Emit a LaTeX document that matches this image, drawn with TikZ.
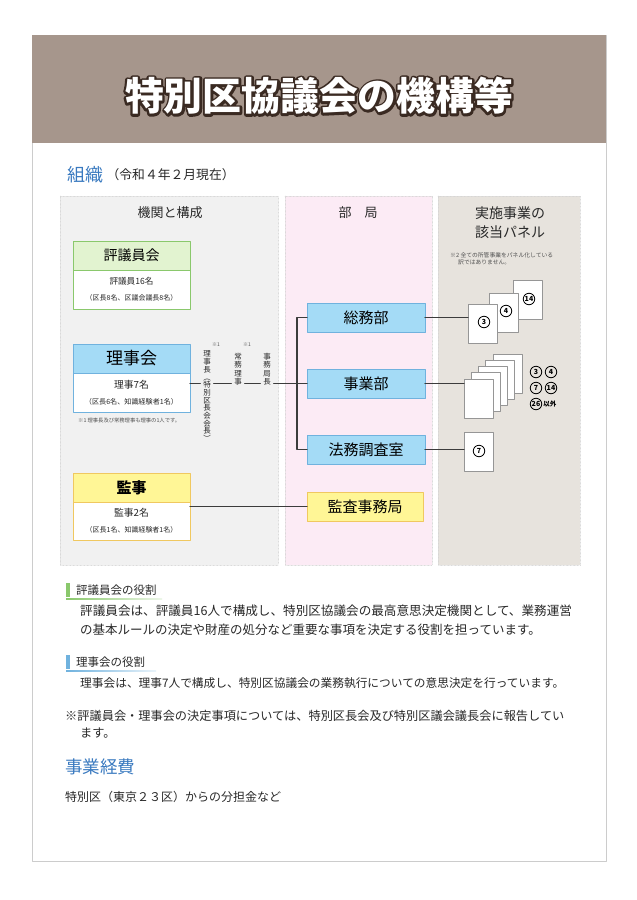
\documentclass[tikz,border=0pt]{standalone}
\usepackage{fontspec}
\setmainfont{Noto Sans CJK JP}
\usetikzlibrary{positioning}

\definecolor{bannerbg}{RGB}{166,150,140}
\definecolor{titleedge}{RGB}{58,42,34}
\definecolor{framegray}{RGB}{204,204,204}
\definecolor{headblue}{RGB}{58,122,192}
\definecolor{colgray}{RGB}{241,241,241}
\definecolor{colpink}{RGB}{252,235,245}
\definecolor{colbeige}{RGB}{231,227,221}
\definecolor{coldot}{RGB}{212,212,212}
\definecolor{greenfill}{RGB}{226,243,208}
\definecolor{greenline}{RGB}{138,200,108}
\definecolor{bluefill}{RGB}{164,219,246}
\definecolor{blueline}{RGB}{112,178,222}
\definecolor{yellowfill}{RGB}{255,246,150}
\definecolor{yellowline}{RGB}{240,200,96}
\definecolor{linegray}{RGB}{60,60,60}
\definecolor{panelline}{RGB}{150,150,150}
\definecolor{notegray}{RGB}{80,80,80}
\definecolor{bodytext}{RGB}{40,40,40}

\newcommand{\setsize}[1]{\fontsize{#1}{#1}\selectfont}
\newcommand{\bannertitle}{特別区協議会の機構等}

\begin{document}
\begin{tikzpicture}[x=1pt,y=-1pt,line cap=round,line join=round,
  link/.style={draw=linegray,line width=1.1pt},
  orghead/.style={draw,line width=0.8pt,minimum width=117pt,minimum height=29pt,inner sep=0pt,outer sep=0pt},
  orgbody/.style={draw,fill=white,line width=0.8pt,minimum width=117pt,inner sep=0pt,outer sep=0pt,align=center,text=bodytext},
  dept/.style={draw=blueline,fill=bluefill,line width=0.8pt,minimum width=118pt,minimum height=29pt,inner sep=0pt,outer sep=0pt,font=\setsize{15},anchor=north west},
  tate/.style={align=center,inner sep=3pt,outer sep=0pt,anchor=north,text=bodytext},
  starmark/.style={font=\setsize{5},text=notegray,inner sep=0pt},
  panel/.style={draw=panelline,fill=white,line width=0.7pt,minimum width=29pt,minimum height=39pt,inner sep=0pt,outer sep=0pt,anchor=north west},
  circnum/.style={circle,draw,line width=0.8pt,inner sep=0pt,minimum size=11.5pt,font=\bfseries\setsize{7}},
  bodyline/.style={anchor=west,inner sep=0pt,text=bodytext}]
  \useasboundingbox (0,0) rectangle (637,900);
  \fill[white] (0,0) rectangle (637,900);

  % card and banner
  \draw[framegray,fill=white,line width=0.8pt] (32,35) rectangle (606,861);
  \fill[bannerbg] (32,35) rectangle (606,143);
  % outline: stroked copy under the white letters
  \node[font=\bfseries\setsize{38.8},text=titleedge] (titleback) at (319,96)
    {\special{pdf:literal direct 1 Tr 4.5 w 1 j 1 J}\bannertitle\special{pdf:literal direct 0 Tr 1 w}};
  \node[font=\bfseries\setsize{38.8},text=white] (title) at (319,96) {\bannertitle};

  % heading
  \node[anchor=west,inner sep=0pt,font=\setsize{18},text=headblue] (sosiki) at (67,175) {組織};
  \node[right=3pt of sosiki,inner sep=0pt,font=\setsize{12.8},text=bodytext] (date) {（令和４年２月現在）};

  % columns
  \filldraw[fill=colgray,draw=coldot,densely dotted] (60,196) rectangle (278,565);
  \filldraw[fill=colpink,draw=coldot,densely dotted] (285,196) rectangle (432,565);
  \filldraw[fill=colbeige,draw=coldot,densely dotted] (438,196) rectangle (580,565);
  \node[font=\setsize{13},text=bodytext] (col1) at (170,213) {機関と構成};
  \node[font=\setsize{13},text=bodytext] (col2) at (358,213) {部　局};
  \node[font=\setsize{14},text=bodytext,align=center] (col3) at (510,223) {実施事業の\\[5pt]該当パネル};

  % organs
  \node[orghead,draw=greenline,fill=greenfill,anchor=north west,font=\setsize{14}] (hyo) at (73,241) {評議員会};
  \node[orgbody,draw=greenline,minimum height=39pt,below=0pt of hyo] (hyob)
    {\setsize{8.6}評議員16名\\[4pt]\setsize{7}（区長8名、区議会議長8名）};

  \node[orghead,draw=blueline,fill=bluefill,anchor=north west,font=\setsize{17}] (rj) at (73,344) {理事会};
  \node[orgbody,draw=blueline,minimum height=39pt,below=0pt of rj] (rjb)
    {\setsize{9.8}理事7名\\[4pt]\setsize{7.1}（区長6名、知識経験者1名）};
  \node[anchor=west,inner sep=0pt,font=\setsize{5.3},text=notegray] (rjnote) at (78,420) {※1 理事長及び常務理事も理事の1人です。};

  \node[orghead,draw=yellowline,fill=yellowfill,anchor=north west,font=\bfseries\setsize{15}] (kj) at (73,473) {監事};
  \node[orgbody,draw=yellowline,minimum height=38pt,below=0pt of kj] (kjb)
    {\setsize{9.8}監事2名\\[4pt]\setsize{7}（区長1名、知識経験者1名）};

  % officers (vertical text)
  \node[tate,font=\setsize{7.5}] (chair) at (207,348)
    {理\\[0.2pt]事\\[0.2pt]長\\[0.2pt]︵\\[0.2pt]特\\[0.2pt]別\\[0.2pt]区\\[0.2pt]長\\[0.2pt]会\\[0.2pt]会\\[0.2pt]長\\[0.2pt]︶};
  \node[tate,font=\setsize{7.5}] (director) at (238,350) {常\\[1pt]務\\[1pt]理\\[1pt]事};
  \node[tate,font=\setsize{7.5}] (secgen) at (267,350) {事\\[1pt]務\\[1pt]局\\[1pt]長};
  \node[starmark] at (216,345) {※1};
  \node[starmark] at (247,345) {※1};

  % departments
  \node[dept] (somu) at (307,303) {総務部};
  \node[dept] (jigyo) at (307,369) {事業部};
  \node[dept] (homu) at (307,435) {法務調査室};
  \node[dept,draw=yellowline,fill=yellowfill,minimum width=116pt] (kansa) at (307,492) {監査事務局};

  % connectors
  \coordinate (hub) at (297,383.5);
  \draw[link] (rjb.east |- hub) -- (chair.west |- hub);
  \draw[link] (chair.east |- hub) -- (director.west |- hub);
  \draw[link] (director.east |- hub) -- (secgen.west |- hub);
  \draw[link] (secgen.east |- hub) -- (jigyo.west);
  \draw[link] (somu.west) -- (hub |- somu) -- (hub |- homu) -- (homu.west);
  \draw[link] (kjb.east |- kansa) -- (kansa.west);

  % panels
  \node[anchor=north west,inner sep=0pt,font=\setsize{5.8},text=notegray,align=left] (pnote) at (450,252)
    {※2 全ての所管事業をパネル化している\\[2pt]\hspace*{8pt}訳ではありません。};
  \node[panel] (p14) at (513,280) {};
  \node[panel] (p4) at (489,293) {};
  \node[panel] (p3) at (468,304) {};
  \node[circnum] at (529,299) {14};
  \node[circnum] at (506,311) {4};
  \node[circnum] at (484,322) {3};
  \draw[link] (somu.east) -- (somu.east -| p3.west);

  \foreach \i in {4,...,0}
    \node[panel] (pj\i) at (464+7.25*\i,379-6.25*\i) {};
  \draw[link] (jigyo.east) -- (jigyo.east -| pj0.west);
  \node[circnum] at (536,372) {3};
  \node[circnum] at (551,372) {4};
  \node[circnum] at (536,388) {7};
  \node[circnum] at (551,388) {14};
  \node[circnum] (n26) at (536,404) {26};
  \node[right=1pt of n26,inner sep=0pt,font=\bfseries\setsize{6.5}] {以外};

  \node[panel] (p7) at (464,432) {};
  \node[circnum] at (479,451) {7};
  \draw[link] (homu.east) -- (homu.east -| p7.west);

  % roles
  \fill[greenline] (66,583) rectangle (70,597);
  \node[bodyline,font=\setsize{11.5}] (role1) at (76,590) {評議員会の役割};
  \shade[left color=greenline,right color=greenline!15] (66,598) rectangle (162,599.2);
  \node[bodyline,font=\setsize{12.6}] at (80,611) {評議員会は、評議員16人で構成し、特別区協議会の最高意思決定機関として、業務運営};
  \node[bodyline,font=\setsize{12.5}] at (80,630) {の基本ルールの決定や財産の処分など重要な事項を決定する役割を担っています。};

  \fill[blueline] (66,655) rectangle (70,669);
  \node[bodyline,font=\setsize{11.5}] (role2) at (76,662) {理事会の役割};
  \shade[left color=blueline,right color=blueline!15] (66,670) rectangle (156,671.2);
  \node[bodyline,font=\setsize{11.7}] at (80,683) {理事会は、理事7人で構成し、特別区協議会の業務執行についての意思決定を行っています。};

  \node[bodyline,font=\setsize{12.2}] at (65,716) {※評議員会・理事会の決定事項については、特別区長会及び特別区議会議長会に報告してい};
  \node[bodyline,font=\setsize{12.2}] at (80,733) {ます。};

  \node[bodyline,font=\setsize{17.5},text=headblue] (cost) at (65,767) {事業経費};
  \node[bodyline,font=\setsize{12}] at (65,797) {特別区（東京２３区）からの分担金など};
\end{tikzpicture}
\end{document}
